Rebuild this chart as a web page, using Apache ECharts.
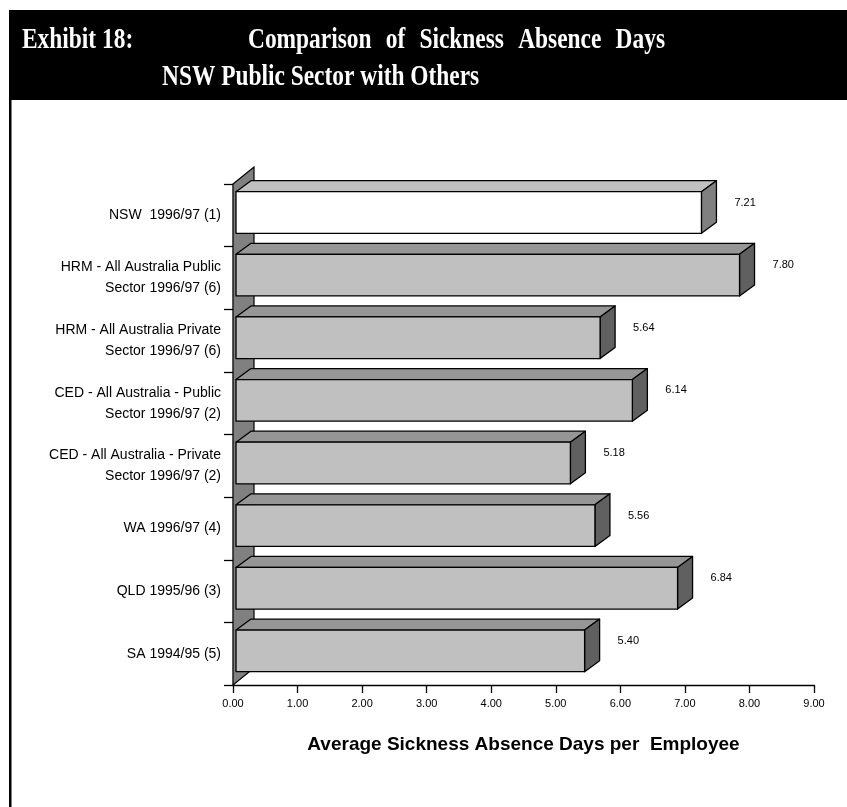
<!DOCTYPE html>
<html>
<head>
<meta charset="utf-8">
<script src="https://cdn.jsdelivr.net/npm/echarts@6/dist/echarts.min.js"></script>
<style>
html,body{margin:0;padding:0;background:#fff;}
#chart{width:847px;height:807px;}
</style>
</head>
<body>
<div id="chart"></div>
<script>
const categories = [
  "NSW  1996/97 (1)",
  "HRM - All Australia Public\nSector 1996/97 (6)",
  "HRM - All Australia Private\nSector 1996/97 (6)",
  "CED - All Australia - Public\nSector 1996/97 (2)",
  "CED - All Australia - Private\nSector 1996/97 (2)",
  "WA 1996/97 (4)",
  "QLD 1995/96 (3)",
  "SA 1994/95 (5)"
];
const values = [7.21, 7.80, 5.64, 6.14, 5.18, 5.56, 6.84, 5.40];
const highlighted = [true, false, false, false, false, false, false, false];
const titleLine1a = "Exhibit 18:";
const titleLine1b = "Comparison of Sickness Absence Days";
const titleLine2 = "NSW Public Sector with Others";
const xAxisTitle = "Average Sickness Absence Days per  Employee";

const chart = echarts.init(document.getElementById('chart'), null, {renderer: 'canvas'});

const DX = 15, DY = 11;
const LABEL_FONT = '"Liberation Sans", Arial, sans-serif';

function renderBar(params, api) {
  const v = api.value(0);
  const ci = api.value(1);
  const idx = params.dataIndex;
  const c = api.coord([v, ci]);
  const c0 = api.coord([0, ci]);
  const band = api.size([0, 1])[1];
  const top = c[1] - band / 2 + band * 0.123;
  const h = band * 0.665;
  const x0 = c0[0] + 3, x1 = c[0] + 3;
  const hi = highlighted[idx];
  const front = hi ? '#ffffff' : '#c0c0c0';
  const topC = hi ? '#c0c0c0' : '#969696';
  const sideC = hi ? '#808080' : '#606060';
  const st = {stroke: '#000', lineWidth: 1.3, lineJoin: 'round'};
  return {
    type: 'group',
    children: [
      {type: 'polygon', shape: {points: [[x0, top], [x0 + DX, top - DY], [x1 + DX, top - DY], [x1, top]]},
        style: Object.assign({fill: topC}, st)},
      {type: 'polygon', shape: {points: [[x1, top], [x1 + DX, top - DY], [x1 + DX, top + h - DY], [x1, top + h]]},
        style: Object.assign({fill: sideC}, st)},
      {type: 'rect', shape: {x: x0, y: top, width: x1 - x0, height: h},
        style: Object.assign({fill: front}, st)},
      {type: 'text', x: x1 + DX + 18, y: top + h / 2 - 10,
        style: {text: v.toFixed(2), fill: '#000', font: '11px ' + LABEL_FONT,
          align: 'left', verticalAlign: 'middle'}}
    ]
  };
}

function renderWall(params, api) {
  const cs = params.coordSys;
  const x = cs.x, y0 = cs.y, y1 = cs.y + cs.height;
  const wdx = 21, wdy = 17;
  return {
    type: 'polygon',
    shape: {points: [[x, y0], [x + wdx, y0 - wdy], [x + wdx, y1 - wdy], [x, y1]]},
    style: {fill: '#808080', stroke: '#000', lineWidth: 1.2}
  };
}

// Header text (line 1 is slightly justified in the original layout)
const TFONT = 'bold 30px "Liberation Serif", "Times New Roman", serif';
const SX = 0.78;
const mctx = document.createElement('canvas').getContext('2d');
mctx.font = TFONT;
const tw = t => mctx.measureText(t).width * SX;
const headerGraphics = [
  {type: 'rect', shape: {x: 9, y: 10, width: 838, height: 90}, style: {fill: '#000'}, z: 0},
  {type: 'rect', shape: {x: 9, y: 100, width: 2.5, height: 707}, style: {fill: '#000'}, z: 0},
  {type: 'text', x: 22, y: 40, scaleX: SX, style: {text: titleLine1a, fill: '#fff', font: TFONT, verticalAlign: 'middle'}},
  {type: 'text', x: 162, y: 77, scaleX: SX, style: {text: titleLine2, fill: '#fff', font: TFONT, verticalAlign: 'middle'}}
];
(function () {
  const words = titleLine1b.split(' ');
  const startX = 248, endX = 665;
  const total = words.reduce((s, t) => s + tw(t), 0);
  const gap = (endX - startX - total) / (words.length - 1);
  let x = startX;
  words.forEach(wd => {
    headerGraphics.push({type: 'text', x: x, y: 40, scaleX: SX,
      style: {text: wd, fill: '#fff', font: TFONT, verticalAlign: 'middle'}});
    x += tw(wd) + gap;
  });
})();

const option = {
  backgroundColor: '#ffffff',
  animation: false,
  graphic: headerGraphics,
  grid: {left: 233, right: 33, top: 184, bottom: 122, containLabel: false},
  xAxis: {
    type: 'value', min: 0, max: 9, interval: 1,
    axisLine: {show: true, lineStyle: {color: '#000', width: 1.3}},
    axisTick: {show: true, length: 8, lineStyle: {color: '#000', width: 1.3}},
    splitLine: {show: false},
    axisLabel: {color: '#000', fontSize: 11, fontFamily: LABEL_FONT, margin: 13,
      formatter: v => v.toFixed(2)},
    name: xAxisTitle, nameLocation: 'middle', nameGap: 50,
    nameTextStyle: {color: '#000', fontSize: 19, fontWeight: 'bold', fontFamily: LABEL_FONT}
  },
  yAxis: {
    type: 'category', data: categories, inverse: true,
    axisLine: {show: true, lineStyle: {color: '#000', width: 1.3}},
    axisTick: {show: true, length: 9, lineStyle: {color: '#000', width: 1.3}},
    axisLabel: {color: '#000', fontSize: 14, lineHeight: 21, margin: 12, align: 'right',
      padding: [0, 0, 4, 0], fontFamily: LABEL_FONT}
  },
  series: [
    {type: 'custom', renderItem: renderWall, data: [[0, 0]], z: 1, silent: true,
      encode: {x: 0, y: 1}},
    {type: 'custom', renderItem: renderBar, z: 2, silent: true,
      data: values.map((v, i) => [v, i]), encode: {x: 0, y: 1}}
  ]
};
chart.setOption(option);
</script>
</body>
</html>
